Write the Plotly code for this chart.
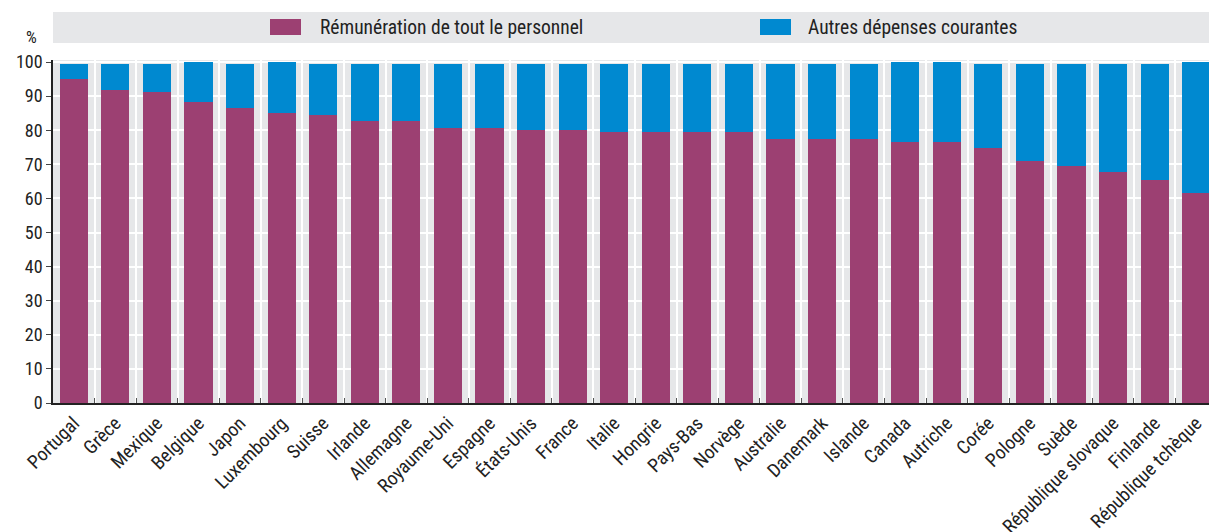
import plotly.graph_objects as go

countries = ["Portugal", "Grèce", "Mexique", "Belgique", "Japon", "Luxembourg", "Suisse",
             "Irlande", "Allemagne", "Royaume-Uni", "Espagne", "États-Unis", "France", "Italie",
             "Hongrie", "Pays-Bas", "Norvège", "Australie", "Danemark", "Islande", "Canada",
             "Autriche", "Corée", "Pologne", "Suède", "République slovaque", "Finlande",
             "République tchèque"]
remuneration = [95.0, 91.9, 91.3, 88.4, 86.6, 85.0, 84.4, 82.7, 82.7, 80.6, 80.6, 80.1, 80.1,
                79.6, 79.6, 79.6, 79.6, 77.4, 77.4, 77.4, 76.6, 76.6, 74.9, 71.0, 69.6, 67.8,
                65.3, 61.6]
autres = [4.5, 7.6, 8.2, 11.6, 12.9, 15.0, 15.1, 16.8, 16.8, 18.9, 18.9, 19.4, 19.4,
          19.9, 19.9, 19.9, 19.9, 22.1, 22.1, 22.1, 23.4, 23.4, 24.6, 28.5, 29.9, 31.7,
          34.2, 38.4]
series_names = ["Rémunération de tout le personnel", "Autres dépenses courantes"]

PURPLE = "#9c4072"
BLUE = "#0089d0"
GREY = "#e6e7e9"
TXT = "#222222"
FONT = "Roboto Condensed, Liberation Sans Narrow, Arial Narrow, sans-serif"

fig = go.Figure()
fig.add_trace(go.Bar(x=countries, y=remuneration, name=series_names[0],
                     marker=dict(color=PURPLE, line=dict(width=0)), showlegend=False))
fig.add_trace(go.Bar(x=countries, y=autres, name=series_names[1],
                     marker=dict(color=BLUE, line=dict(width=0)), showlegend=False))

# page is offset by the 8px body margin; work in figure pixels
OFF = 8
FW, FH = 1217 - OFF, 532 - OFF
L, R, T, B = 53 - OFF, 1217 - OFF, 60 - OFF, 403 - OFF
W, H = R - L, B - T
def px(x):
    return (x - OFF - L) / W
def py(y):
    return (B - (y - OFF)) / H

shapes = [dict(type="rect", xref="paper", yref="paper", x0=0, x1=1.0,
               y0=py(43), y1=py(12), fillcolor=GREY, line=dict(width=0), layer="below")]
annotations = [dict(text="%", xref="paper", yref="paper", x=px(31), y=py(37),
                    showarrow=False, xanchor="center", yanchor="middle",
                    font=dict(size=17, color=TXT))]
legend_pos = [(270, 318), (760, 806)]
for (sx, tx), name, col in zip(legend_pos, series_names, [PURPLE, BLUE]):
    shapes.append(dict(type="rect", xref="paper", yref="paper", x0=px(sx), x1=px(sx + 31),
                       y0=py(35), y1=py(19), fillcolor=col, line=dict(width=0)))
    annotations.append(dict(text=name, xref="paper", yref="paper", x=px(tx), y=py(27.5),
                            showarrow=False, xanchor="left", yanchor="middle",
                            font=dict(size=19.5, color=TXT)))

fig.update_layout(
    width=FW, height=FH,
    barmode="stack", bargap=0.32,
    margin=dict(l=L, r=FW - R, t=T, b=FH - B),
    paper_bgcolor="white", plot_bgcolor=GREY,
    font=dict(family=FONT, size=17, color=TXT),
    showlegend=False,
    shapes=shapes,
    annotations=annotations,
)
fig.update_yaxes(range=[0, 100.6], dtick=10, showgrid=True, gridcolor="white", gridwidth=2,
                 showline=True, linecolor=TXT, linewidth=1.5, ticks="outside",
                 ticklen=5, tickcolor="#444444", zeroline=False, automargin=False,
                 tickfont=dict(size=18))
fig.update_xaxes(tickangle=-45, showgrid=True, gridcolor="white", gridwidth=2,
                 tickson="boundaries", ticks="inside", ticklen=5, tickcolor="#555555",
                 showline=True, linecolor=TXT, linewidth=1.5, automargin=False,
                 tickfont=dict(size=19))

fig.write_html("out.html")
